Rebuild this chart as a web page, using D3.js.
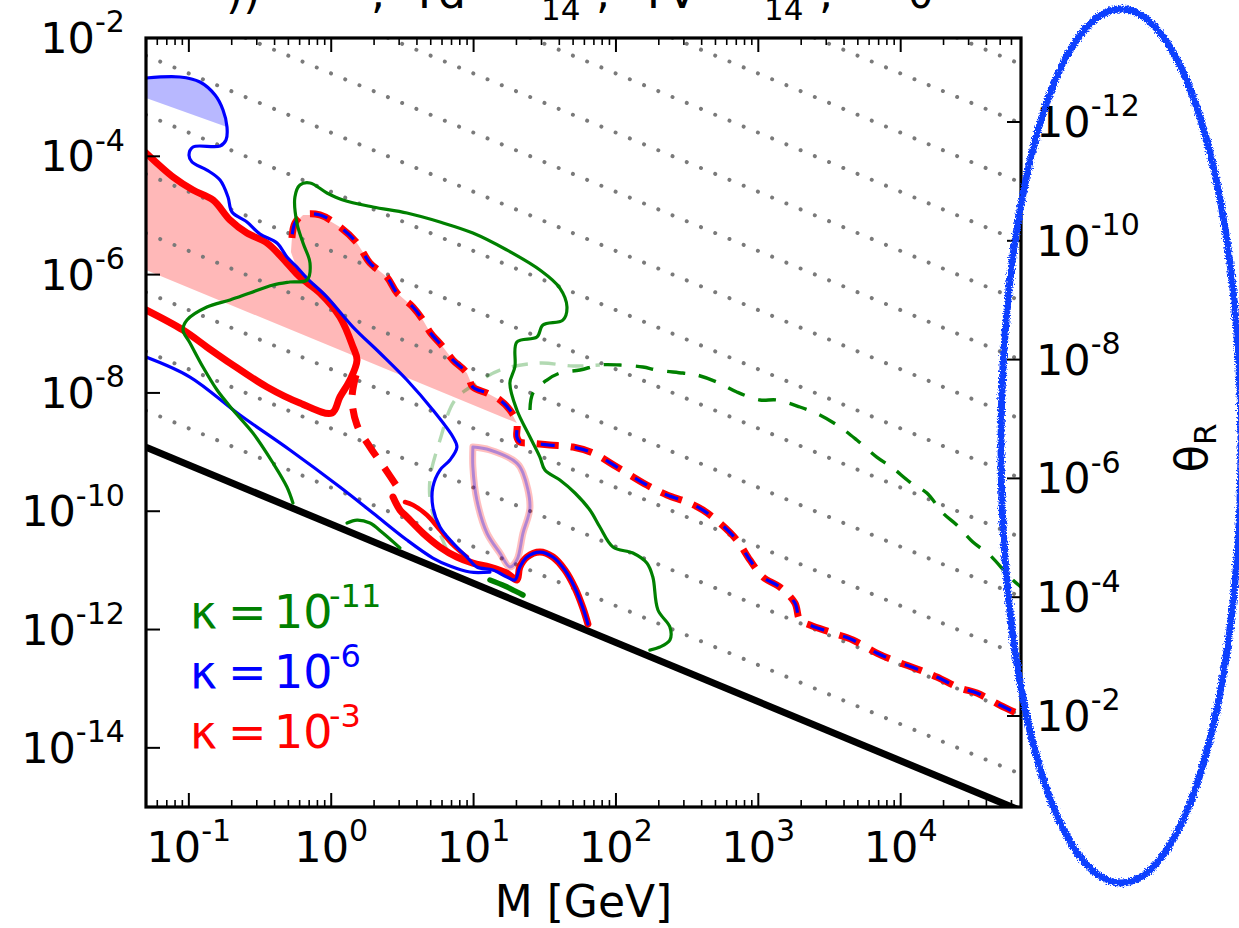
<!DOCTYPE html>
<html><head><meta charset="utf-8">
<script src="https://cdn.jsdelivr.net/npm/d3@7"></script>
<style>html,body{margin:0;padding:0;background:#fff;}svg{display:block}</style>
</head><body><svg id="c" width="1239" height="928"></svg>
<script>
// ---- data: pairs are [log10(M / GeV), log10(U^2)] ----
const blueUpper = [[-1.301,-2.676],[-1.062,-2.659],[-0.922,-2.744],[-0.816,-2.964],[-0.760,-3.217],[-0.732,-3.505],[-0.739,-3.724],[-0.781,-3.826],[-0.971,-3.843],[-0.999,-3.978],[-0.978,-4.096],[-0.873,-4.232],[-0.781,-4.401],[-0.725,-4.688],[-0.697,-4.942],[-0.592,-5.111],[-0.500,-5.314],[-0.381,-5.466],[-0.311,-5.702],[-0.241,-5.872],[-0.171,-6.058],[-0.030,-6.379],[0.153,-6.886],[0.342,-7.325],[0.532,-7.782],[0.714,-8.289],[0.855,-8.745],[0.883,-8.915],[0.834,-9.134],[0.764,-9.304],[0.714,-9.591],[0.714,-9.929],[0.764,-10.267],[0.855,-10.538],[0.953,-10.774],[1.023,-10.943],[1.136,-10.994],[1.234,-11.112],[1.290,-11.163],[1.325,-10.943],[1.375,-10.774],[1.466,-10.690],[1.557,-10.774],[1.641,-10.994],[1.712,-11.298],[1.768,-11.636],[1.803,-11.907]];
const blueFill = [[-1.301,-2.676],[-1.062,-2.659],[-0.922,-2.744],[-0.816,-2.964],[-0.760,-3.217],[-0.732,-3.505],[-1.301,-3.014]];
const blueLower = [[-1.301,-7.393],[-0.992,-7.731],[-0.641,-8.374],[-0.290,-8.965],[0.061,-9.591],[0.293,-10.030],[0.532,-10.487],[0.714,-10.791],[0.834,-10.926],[0.974,-11.028],[1.115,-11.028]];
const redSolid = [[-1.301,-3.944],[-1.111,-4.350],[-0.971,-4.570],[-0.830,-4.739],[-0.711,-5.077],[-0.592,-5.297],[-0.451,-5.466],[-0.311,-5.804],[-0.220,-6.041],[-0.079,-6.311],[0.061,-6.717],[0.153,-7.224],[0.181,-7.444],[0.132,-7.782],[0.061,-8.069],[0.005,-8.340],[-0.220,-8.171],[-0.451,-7.900],[-0.711,-7.495],[-0.873,-7.224],[-1.041,-6.937],[-1.301,-6.598]];
const redDashed = [[-0.276,-5.381],[-0.255,-5.128],[-0.198,-4.992],[-0.079,-4.992],[0.061,-5.195],[0.181,-5.466],[0.272,-5.804],[0.391,-6.041],[0.462,-6.311],[0.574,-6.548],[0.644,-6.768],[0.693,-6.970],[0.785,-7.224],[0.855,-7.444],[0.953,-7.664],[0.995,-7.900],[1.094,-8.002],[1.185,-8.120],[1.255,-8.289],[1.304,-8.509],[1.304,-8.745],[1.325,-8.830],[1.396,-8.847],[1.536,-8.881],[1.698,-8.915],[1.838,-9.016],[2.007,-9.253],[2.217,-9.557],[2.358,-9.726],[2.498,-9.844],[2.611,-9.980],[2.730,-10.200],[2.849,-10.487],[2.941,-10.825],[3.032,-11.112],[3.151,-11.281],[3.257,-11.552],[3.292,-11.839],[3.362,-11.924],[3.523,-12.059],[3.664,-12.177],[3.832,-12.397],[3.945,-12.516],[4.134,-12.685],[4.254,-12.803],[4.415,-12.989],[4.535,-13.073],[4.696,-13.276],[4.844,-13.445]];
const redDashedDrop = [[0.174,-7.697],[0.146,-8.086],[0.181,-8.543],[0.272,-8.915],[0.370,-9.253],[0.469,-9.608]];
const redLower = [[0.434,-9.760],[0.483,-9.980],[0.532,-10.098],[0.644,-10.369],[0.764,-10.605],[0.883,-10.774],[0.995,-10.876],[1.115,-10.943],[1.234,-11.045],[1.304,-11.163],[1.325,-10.943],[1.375,-10.774],[1.466,-10.690],[1.557,-10.774],[1.641,-10.994],[1.712,-11.298],[1.768,-11.636],[1.803,-11.907]];
const redLower2 = [[0.518,-9.844],[0.574,-9.895],[0.672,-10.064],[0.764,-10.318],[0.855,-10.571],[0.953,-10.774]];
const paleLoop = [[0.995,-8.915],[1.115,-8.965],[1.304,-9.185],[1.347,-9.354],[1.396,-9.929],[1.347,-10.369],[1.304,-10.825],[1.255,-10.943],[1.185,-10.707],[1.094,-10.369],[1.023,-9.811],[0.995,-9.253],[0.995,-8.915]];
const pinkFill = [[-1.301,-3.944],[-1.111,-4.350],[-0.971,-4.570],[-0.830,-4.739],[-0.711,-5.077],[-0.592,-5.297],[-0.451,-5.466],[-0.311,-5.804],[-0.220,-6.041],[-0.283,-5.618],[-0.276,-5.381],[-0.255,-5.128],[-0.198,-4.992],[-0.079,-4.992],[0.061,-5.195],[0.181,-5.466],[0.272,-5.804],[0.391,-6.041],[0.462,-6.311],[0.574,-6.548],[0.644,-6.768],[0.693,-6.970],[0.785,-7.224],[0.855,-7.444],[0.953,-7.664],[0.995,-7.900],[1.094,-8.002],[1.185,-8.120],[1.255,-8.289],[1.304,-8.509],[-1.301,-5.922]];
const greenSolid = [[-0.269,-9.861],[-0.311,-9.591],[-0.409,-9.185],[-0.550,-8.678],[-0.690,-8.289],[-0.802,-7.951],[-0.901,-7.562],[-0.992,-7.156],[-1.041,-6.937],[-1.013,-6.768],[-0.873,-6.548],[-0.711,-6.429],[-0.571,-6.311],[-0.409,-6.176],[-0.290,-6.125],[-0.170,-6.091],[-0.149,-5.804],[-0.198,-5.466],[-0.241,-5.128],[-0.255,-4.688],[-0.220,-4.485],[-0.149,-4.451],[-0.030,-4.620],[0.082,-4.739],[0.293,-4.857],[0.532,-4.959],[0.764,-5.111],[0.995,-5.297],[1.234,-5.584],[1.466,-5.922],[1.606,-6.227],[1.656,-6.548],[1.627,-6.768],[1.487,-6.852],[1.445,-7.055],[1.304,-7.139],[1.290,-7.562],[1.255,-7.833],[1.304,-8.289],[1.396,-8.745],[1.466,-9.084],[1.501,-9.304],[1.606,-9.473],[1.712,-9.692],[1.817,-9.980],[1.887,-10.267],[1.979,-10.605],[2.119,-10.707],[2.217,-10.876],[2.259,-11.112],[2.295,-11.670],[2.379,-11.958],[2.379,-12.177],[2.309,-12.296],[2.238,-12.347]];
const greenHump = [[0.111,-10.200],[0.181,-10.149],[0.272,-10.200],[0.363,-10.369],[0.483,-10.622]];
const greenShort = [[1.115,-11.163],[1.220,-11.265],[1.347,-11.417]];
const greenDashed = [[1.396,-8.289],[1.417,-8.002],[1.515,-7.782],[1.606,-7.664],[1.747,-7.613],[1.887,-7.528],[2.028,-7.528],[2.189,-7.562],[2.288,-7.613],[2.470,-7.664],[2.568,-7.697],[2.709,-7.816],[2.849,-7.985],[3.011,-8.120],[3.130,-8.120],[3.292,-8.238],[3.432,-8.374],[3.573,-8.576],[3.692,-8.796],[3.832,-9.084],[3.945,-9.270],[4.064,-9.506],[4.184,-9.692],[4.296,-10.030],[4.394,-10.233],[4.507,-10.521],[4.626,-10.741],[4.766,-11.112],[4.844,-11.281]];
const greenPale = [[0.813,-10.656],[0.707,-9.980],[0.693,-9.473],[0.764,-8.796],[0.869,-8.120],[1.023,-7.833],[1.185,-7.613],[1.466,-7.495],[1.698,-7.545],[1.887,-7.528]];
// seesaw line U^2 = m_nu / M  (log10 m_nu in GeV), and dotted reference lines U^2 M = const
const seesawLogC = -10.22;
const dottedLogC = [-9.6,-8.6,-7.6,-6.6,-5.6,-4.6,-3.6,-2.6,-1.6,-0.6,0.4,1.4,2.4];
// axes
const xDomain = [0.05, 7e4];
const yDomain = [1e-15, 1e-2];
const thetaDomain = [Math.pow(10,-13.414), Math.pow(10,-0.468)];
const xTicks = [0.1, 1, 10, 100, 1000, 10000];
const xTickExp = ["-1","0","1","2","3","4"];
const yTicks = [1e-14, 1e-12, 1e-10, 1e-8, 1e-6, 1e-4, 1e-2];
const yTickExp = ["-14","-12","-10","-8","-6","-4","-2"];
const thetaTicks = [1e-12, 1e-10, 1e-8, 1e-6, 1e-4, 1e-2];
const thetaTickExp = ["-12","-10","-8","-6","-4","-2"];
const legendItems = [{exp:"-11", color:"#008000"},{exp:"-6", color:"#0000ff"},{exp:"-3", color:"#ff0000"}];

// ---- drawing ----
const FONT = "DejaVu Sans, sans-serif";
const L=146, R=1021, T=38, B=807;
const svg = d3.select("#c");
svg.append("rect").attr("width",1239).attr("height",928).attr("fill","#fff");
const defs = svg.append("defs");
defs.append("clipPath").attr("id","pa").append("rect").attr("x",L).attr("y",T).attr("width",R-L).attr("height",B-T);
const f = defs.append("filter").attr("id","rough").attr("x","-10%").attr("y","-10%").attr("width","120%").attr("height","120%");
f.append("feTurbulence").attr("type","fractalNoise").attr("baseFrequency","0.7").attr("numOctaves",2).attr("seed",3).attr("result","n");
f.append("feDisplacementMap").attr("in","SourceGraphic").attr("in2","n").attr("scale",6).attr("xChannelSelector","R").attr("yChannelSelector","G");

const x = d3.scaleLog().domain(xDomain).range([L,R]);
const y = d3.scaleLog().domain(yDomain).range([B,T]);
const yR = d3.scaleLog().domain(thetaDomain).range([T,B]);

const line = d3.line().x(d=>x(Math.pow(10,d[0]))).y(d=>y(Math.pow(10,d[1]))).curve(d3.curveCatmullRom.alpha(0.5));
const lineLin = d3.line().x(d=>x(Math.pow(10,d[0]))).y(d=>y(Math.pow(10,d[1])));

const g = svg.append("g").attr("clip-path","url(#pa)");
// fills
g.append("path").attr("d", lineLin(blueFill)+"Z").attr("fill","rgba(0,0,255,0.28)");
g.append("path").attr("d", lineLin(pinkFill)+"Z").attr("fill","rgba(255,0,0,0.28)");

// dotted lines
const lmin = Math.log10(xDomain[0]), lmax = Math.log10(xDomain[1]);
dottedLogC.forEach(c=>{
  g.append("path").attr("d", lineLin([[lmin,c-lmin],[lmax,c-lmax]]))
   .attr("fill","none").attr("stroke","#7a7a7a").attr("stroke-width",4)
   .attr("stroke-dasharray","0.01 15.4").attr("stroke-linecap","round");
});
// seesaw
g.append("path").attr("d", lineLin([[lmin,seesawLogC-lmin],[lmax,seesawLogC-lmax]]))
 .attr("fill","none").attr("stroke","#000").attr("stroke-width",7);

function draw(data, color, w, dash, opacity){
  const p = g.append("path").attr("d", line(data)).attr("fill","none").attr("stroke",color)
   .attr("stroke-width",w).attr("stroke-linejoin","round").attr("stroke-linecap", dash ? "butt" : "round");
  if(dash) p.attr("stroke-dasharray",dash);
  if(opacity!=null) p.attr("stroke-opacity",opacity);
  return p;
}
// pale loop
draw(paleLoop, "#ff0000", 7, null, 0.25);
draw(paleLoop, "#0000ff", 3, null, 0.3);
draw(greenPale, "#008000", 3.4, "16 12", 0.3);
// red (kappa = 1e-3)
draw(redSolid, "#ff0000", 7);
draw(redLower, "#ff0000", 7);
draw(redLower2, "#ff0000", 4.5);
draw(redDashedDrop, "#ff0000", 7, "20 14");
draw(redDashed, "#ff0000", 7, "22 12");
// blue (kappa = 1e-6)
draw(blueUpper, "#0000ff", 3.2);
draw(blueLower, "#0000ff", 3.2);
draw(redDashed, "#0000ff", 3.2, "14 20").attr("stroke-dashoffset", -4);
// green (kappa = 1e-11)
draw(greenSolid, "#008000", 3.2);
draw(greenHump, "#008000", 3.2);
draw(greenShort, "#008000", 5.5);
draw(greenDashed, "#008000", 3.4, "18 14");

// ticks
const ax = svg.append("g").attr("stroke","#000");
const minor = [];
for(let d=-2; d<=4; d++) for(let m=2; m<=9; m++){ const v=m*Math.pow(10,d); if(v>xDomain[0]&&v<xDomain[1]) minor.push(v); }
minor.forEach(v=>{
  ax.append("line").attr("x1",x(v)).attr("x2",x(v)).attr("y1",B).attr("y2",B-7).attr("stroke-width",1.6);
  ax.append("line").attr("x1",x(v)).attr("x2",x(v)).attr("y1",T).attr("y2",T+7).attr("stroke-width",1.6);
});
xTicks.forEach(v=>{
  ax.append("line").attr("x1",x(v)).attr("x2",x(v)).attr("y1",B).attr("y2",B-14).attr("stroke-width",2);
  ax.append("line").attr("x1",x(v)).attr("x2",x(v)).attr("y1",T).attr("y2",T+14).attr("stroke-width",2);
});
yTicks.forEach(v=>{
  ax.append("line").attr("x1",L).attr("x2",L+14).attr("y1",y(v)).attr("y2",y(v)).attr("stroke-width",2);
});
thetaTicks.forEach(v=>{
  ax.append("line").attr("x1",R).attr("x2",R-14).attr("y1",yR(v)).attr("y2",yR(v)).attr("stroke-width",2);
});
// frame
svg.append("rect").attr("x",L).attr("y",T).attr("width",R-L).attr("height",B-T)
  .attr("fill","none").attr("stroke","#000").attr("stroke-width",3.2);

function powLabel(sel, exp, fs){
  sel.append("tspan").text("10");
  sel.append("tspan").attr("dy", -0.48*fs).attr("font-size", 0.7*fs).text(exp);
}
const FS = 43;
xTicks.forEach((v,i)=>{
  const t = svg.append("text").attr("x",x(v)).attr("y",862).attr("text-anchor","middle")
    .attr("font-family",FONT).attr("font-size",FS).attr("fill","#000");
  powLabel(t, xTickExp[i], FS);
});
yTicks.forEach((v,i)=>{
  const t = svg.append("text").attr("x",125).attr("y",y(v)+15).attr("text-anchor","end")
    .attr("font-family",FONT).attr("font-size",FS).attr("fill","#000");
  powLabel(t, yTickExp[i], FS);
});
thetaTicks.forEach((v,i)=>{
  const t = svg.append("text").attr("x",1036).attr("y",yR(v)+15).attr("text-anchor","start")
    .attr("font-family",FONT).attr("font-size",FS).attr("fill","#000");
  powLabel(t, thetaTickExp[i], FS);
});
svg.append("text").attr("x",(L+R)/2).attr("y",917).attr("text-anchor","middle")
  .attr("font-family",FONT).attr("font-size",44).text("M [GeV]");
const th = svg.append("text").attr("transform","translate(1207,448) rotate(-90)").attr("text-anchor","middle")
  .attr("font-family",FONT).attr("font-size",45);
th.append("tspan").text("θ");
th.append("tspan").attr("dy",9).attr("font-size",31).text("R");

// legend
legendItems.forEach((it,i)=>{
  const yy = 628 + i*60;
  const t = svg.append("text").attr("y",yy).attr("font-family",FONT).attr("font-size",46).attr("fill",it.color);
  t.append("tspan").attr("x",190).text("κ");
  t.append("tspan").attr("x",228).text("=");
  t.append("tspan").attr("x",274).text("10");
  t.append("tspan").attr("x",329).attr("dy",-21).attr("font-size",32).text(it.exp);
});

// title: the reference shows only the lower parts of its glyphs at the top edge
const tt = svg.append("text").attr("font-family",FONT).attr("fill","#000").attr("y",8).attr("font-size",44);
[["))",226,8,44],[",",371,8,44],["Td",411,8,44],["14",541,20,31],[",",596,8,44],["TV",640,8,44],["14",764,20,31],[",",819,8,44],["0",908,8,40]]
 .forEach(p=>tt.append("tspan").attr("x",p[1]).attr("y",p[2]).attr("font-size",p[3]).text(p[0]));

// hand-drawn annotation ellipse
svg.append("ellipse").attr("cx",1121).attr("cy",446).attr("rx",120).attr("ry",437)
  .attr("fill","none").attr("stroke","#1040ff").attr("stroke-width",7).attr("filter","url(#rough)");
</script></body></html>
